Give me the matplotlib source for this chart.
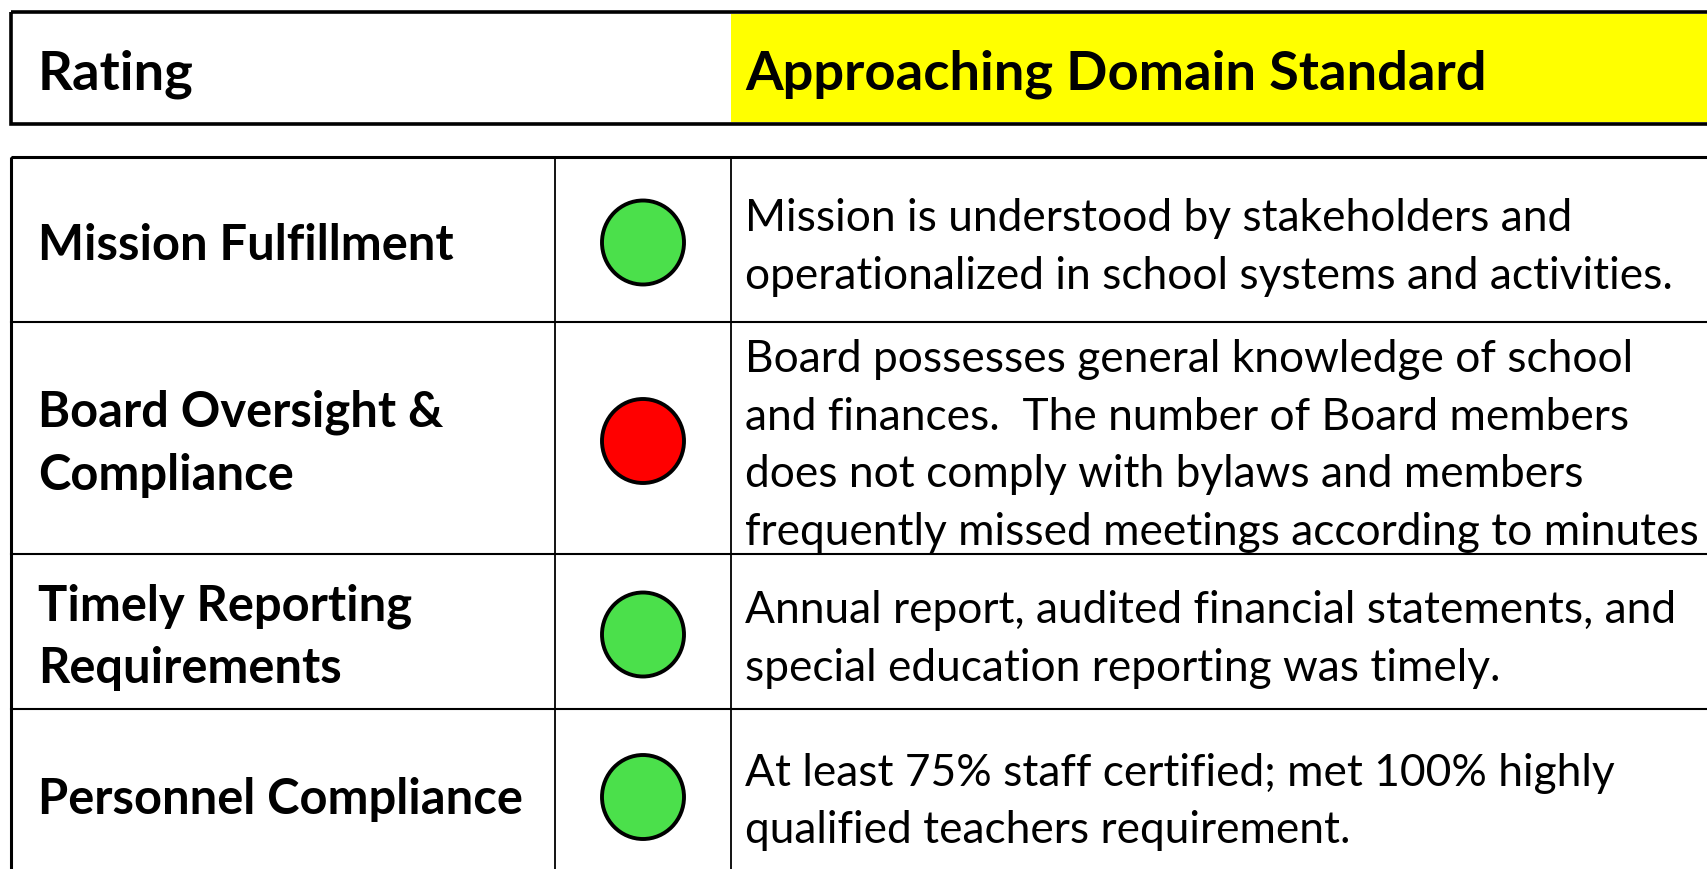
import matplotlib.pyplot as plt
from matplotlib.patches import Rectangle, Ellipse

# data
header_label = "Rating"
header_value = "Approaching Domain Standard"
labels = [
    ["Mission Fulfillment"],
    ["Board Oversight &", "Compliance"],
    ["Timely Reporting", "Requirements"],
    ["Personnel Compliance"],
]
status = ["green", "red", "green", "green"]
descriptions = [
    ["Mission is understood by stakeholders and",
     "operationalized in school systems and activities."],
    ["Board possesses general knowledge of school",
     "and finances.  The number of Board members",
     "does not comply with bylaws and members",
     "frequently missed meetings according to minutes"],
    ["Annual report, audited financial statements, and",
     "special education reporting was timely."],
    ["At least 75% staff certified; met 100% highly",
     "qualified teachers requirement."],
]
status_colors = {"green": "#4BE04B", "red": "#FF0000"}

W, H = 1707, 870
fig = plt.figure(figsize=(W / 100, H / 100), dpi=100)
ax = fig.add_axes([0, 0, 1, 1])
ax.set_xlim(0, W)
ax.set_ylim(H, 0)
ax.axis("off")

FONT = "Lato"

# layout (pixels)
left = 11
col1, col2 = 555, 731
right = W + 20
hdr_top, hdr_bot = 13, 125
row_edges = [158, 323, 555, 710, 880]
text_pad = 14
desc_pitch = 57.7
label_pitch = 62.5
text_shift = 5


def fit_size(text, weight, target, base=30):
    t = ax.text(0, 0, text, fontsize=base, family=FONT, fontweight=weight)
    fig.canvas.draw()
    w = t.get_window_extent(fig.canvas.get_renderer()).width
    t.remove()
    return base * target / w


desc_fs = fit_size(descriptions[1][3], "normal", 953)
label_fs = fit_size(labels[3][0], "bold", 485)
head_fs = fit_size(header_value, "bold", 740)

# header box
ax.add_patch(Rectangle((col2, hdr_top + 2), right - col2, hdr_bot - hdr_top - 4,
                       facecolor="#FFFF00", edgecolor="none"))
ax.add_patch(Rectangle((left, hdr_top), right - left, hdr_bot - hdr_top,
                       facecolor="none", edgecolor="black", lw=2.6))
hy = (hdr_top + hdr_bot) / 2 + text_shift
ax.text(left + 27, hy, header_label, fontsize=head_fs, family=FONT,
        fontweight="bold", va="center", ha="left")
ax.text(col2 + text_pad, hy, header_value, fontsize=head_fs, family=FONT,
        fontweight="bold", va="center", ha="left")

# table grid
ax.add_patch(Rectangle((left, row_edges[0]), right - left, row_edges[-1] - row_edges[0],
                       facecolor="none", edgecolor="black", lw=2.2))
for y in row_edges[1:-1]:
    ax.plot([left, right], [y, y], color="black", lw=1.5)
for x in (col1, col2):
    ax.plot([x, x], [row_edges[0], row_edges[-1]], color="black", lw=1.3)

# rows
for i, (lab, st, desc) in enumerate(zip(labels, status, descriptions)):
    yc = (row_edges[i] + row_edges[i + 1]) / 2
    if i == len(labels) - 1:
        yc = 795
    for j, line in enumerate(lab):
        y = yc + text_shift + (j - (len(lab) - 1) / 2) * label_pitch
        ax.text(left + 27, y, line, fontsize=label_fs, family=FONT,
                fontweight="bold", va="center", ha="left")
    ax.add_patch(Ellipse(((col1 + col2) / 2 + 0, yc + 3), 82, 84,
                         facecolor=status_colors[st], edgecolor="black", lw=2.8))
    for j, line in enumerate(desc):
        y = yc + 2 + text_shift + (j - (len(desc) - 1) / 2) * desc_pitch
        ax.text(col2 + text_pad, y, line, fontsize=desc_fs, family=FONT,
                va="center", ha="left")

fig.savefig("out.png", dpi=100)
